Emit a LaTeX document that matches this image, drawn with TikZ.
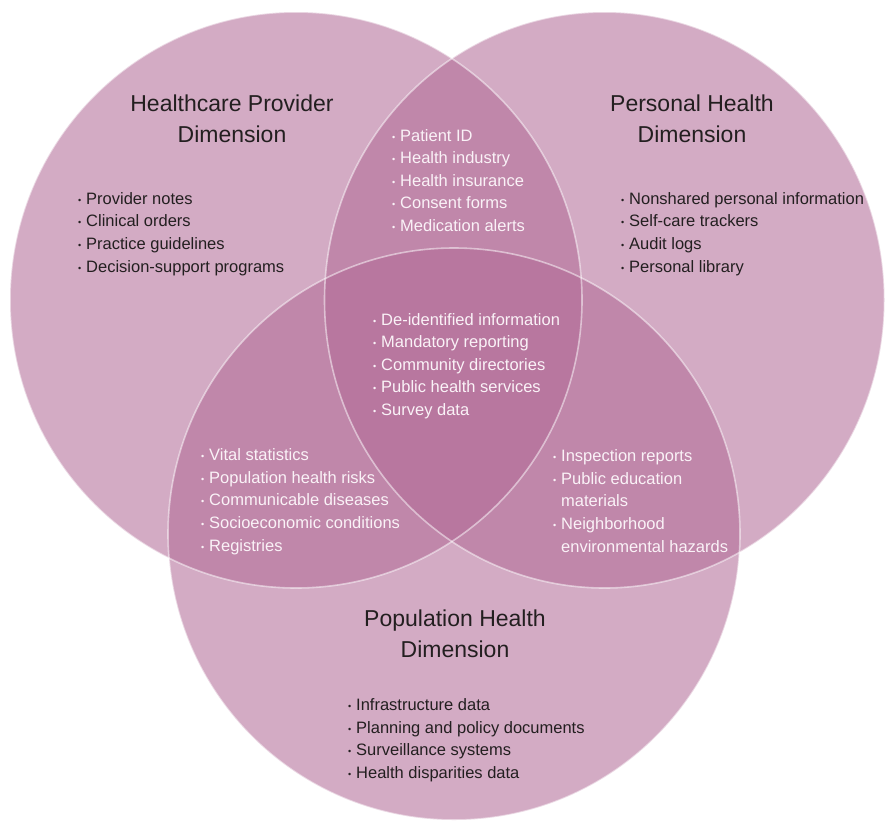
\documentclass[tikz,border=0pt]{standalone}
\usepackage{fontspec}
\setmainfont{Liberation Sans}
\definecolor{vfill}{RGB}{178,108,152}
\definecolor{darktxt}{RGB}{35,31,32}
\definecolor{lighttxt}{RGB}{250,242,247}
\newcommand\vbul{\makebox[8pt][l]{\raisebox{1pt}{\fontsize{9}{9}\selectfont •}}}
\newcommand\vind{\hspace*{8pt}}
\begin{document}
\begin{tikzpicture}[x=1pt,y=-1pt,
  circ/.style={fill=vfill, fill opacity=0.57},
  rim/.style={draw=white, draw opacity=0.5, line width=1.6pt},
  title/.style={font=\fontsize{23}{31}\selectfont, text=darktxt, align=center, inner sep=0pt, anchor=base},
  list/.style={font=\fontsize{16.5}{22.6}\selectfont, align=left, inner sep=0pt, anchor=base west},
  dark/.style={text=darktxt},
  light/.style={text=lighttxt}]
\fill[white] (0,0) rectangle (886,823);
\useasboundingbox (0,0) rectangle (886,823);
% circles
\fill[circ] (296,300) ellipse [x radius=286pt, y radius=288pt];
\fill[circ] (604.5,300) ellipse [x radius=280pt, y radius=288pt];
\fill[circ] (454,534) ellipse [x radius=286pt, y radius=286pt];
\draw[rim] (296,300) ellipse [x radius=286pt, y radius=288pt];
\draw[rim] (604.5,300) ellipse [x radius=280pt, y radius=288pt];
\draw[rim] (454,534) ellipse [x radius=286pt, y radius=286pt];
% titles (anchored at the baseline of the last line)
\node[title] (tL) at (232,142) {Healthcare Provider\\Dimension};
\node[title] (tR) at (692,142) {Personal Health\\Dimension};
\node[title] (tB) at (455,657) {Population Health\\Dimension};
% lists (anchored at the baseline of the last line)
\node[list,dark] (lL) at (78,272) {\vbul Provider notes\\\vbul Clinical orders\\\vbul Practice guidelines\\\vbul Decision-support programs};
\node[list,dark] (lR) at (621,272) {\vbul Nonshared personal information\\\vbul Self-care trackers\\\vbul Audit logs\\\vbul Personal library};
\node[list,light] (lT) at (392,231.5) {\vbul Patient ID\\\vbul Health industry\\\vbul Health insurance\\\vbul Consent forms\\\vbul Medication alerts};
\node[list,light] (lC) at (373,415.5) {\vbul De-identified information\\\vbul Mandatory reporting\\\vbul Community directories\\\vbul Public health services\\\vbul Survey data};
\node[list,light] (lLB) at (201,551) {\vbul Vital statistics\\\vbul Population health risks\\\vbul Communicable diseases\\\vbul Socioeconomic conditions\\\vbul Registries};
\node[list,light] (lRB) at (553,552) {\vbul Inspection reports\\\vbul Public education\\\vind materials\\\vbul Neighborhood\\\vind environmental hazards};
\node[list,dark] (lB) at (348,778.5) {\vbul Infrastructure data\\\vbul Planning and policy documents\\\vbul Surveillance systems\\\vbul Health disparities data};
\end{tikzpicture}
\end{document}
